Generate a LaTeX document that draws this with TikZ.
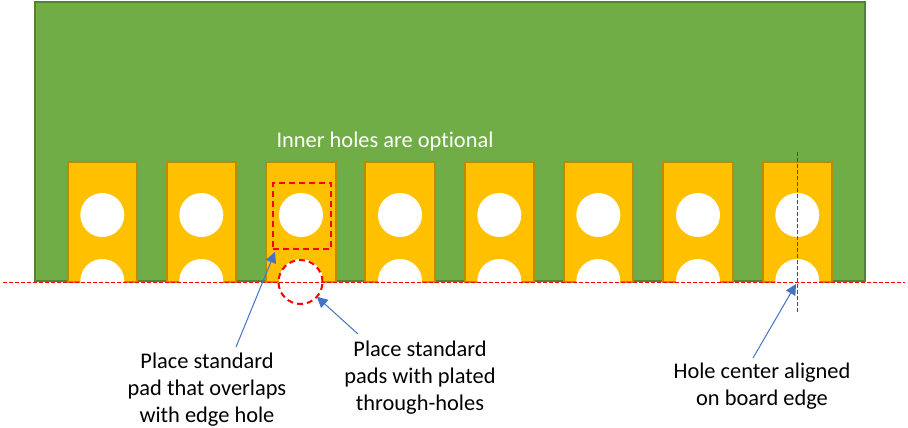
\documentclass[tikz,border=0pt]{standalone}
\usepackage{fontspec}
\setmainfont[Ligatures=NoCommon]{Carlito}
\usetikzlibrary{arrows.meta,positioning}

\definecolor{boardgreen}{HTML}{70AD47}
\definecolor{boardline}{HTML}{548235}
\definecolor{padyellow}{HTML}{FFC000}
\definecolor{padline}{HTML}{BC8C00}
\definecolor{arrowblue}{HTML}{4472C4}

\begin{document}
\begin{tikzpicture}[x=0.75pt,y=-0.75pt,>={Triangle[length=8pt,width=8pt]},
every node/.style={outer sep=0pt,inner sep=0pt},font=\fontsize{16.8}{20.25}\selectfont]

\tikzset{board/.style={draw=boardline,fill=boardgreen,line width=1.5pt,minimum width=622.5pt,minimum height=209pt},
pad/.style={draw=padline,fill=padyellow,line width=1.5pt,minimum width=52pt,minimum height=90pt},
hole/.style={circle,fill=white,minimum size=33pt},
edgemark/.style={draw=red,line width=0.75pt,dash pattern=on 3pt off 1.5pt},
keepout/.style={draw=red,line width=1.5pt,dash pattern=on 4.5pt off 3pt},
callout/.style={->,draw=arrowblue,line width=0.75pt},
note/.style={align=center,text=black}}

\useasboundingbox (0,0) rectangle (908,428);

\node[board] (B) at (450,141.8) {};
\node[text=white] (T) at (385,142) {Inner holes are optional};

% pads with one inner hole and one hole on the edge
\foreach \n/\x in {1/102.3,2/201.3,3/301,4/400,5/499.3,6/598.3,7/698,8/797.3}
{
  \node[pad] (P\n) at (\x,221.7) {};
  \node[hole] (H\n) at (\x,215) {};
  \node[hole] (E\n) at (\x,281) {};
}

\node[keepout,minimum width=43.5pt,minimum height=49.5pt] (R) at (302.3,216) {};
\node[keepout,circle,minimum size=33pt] (C) at (300.5,282) {};

\coordinate (L) at (3,282);
\coordinate (M) at (905,282);
\coordinate (U) at (797.3,152);
\coordinate (D) at (797.3,312);
\draw[edgemark] (L) -- (M);
\draw[edgemark] (U) -- (D);

\node[note] (N1) at (207,389.5) {Place standard\\pad that overlaps\\with edge hole};
\node[note] (N2) at (420,377.5) {Place standard\\pads with plated\\through-holes};
\node[note] (N3) at (762,386) {Hole center aligned\\on board edge};

\coordinate (A1) at (236,347);
\coordinate (A2) at (358,334);
\coordinate (A3) at (753,358);
\draw[callout] (A1) -- (275,252);
\draw[callout] (A2) -- (C);
\draw[callout] (A3) -- (796,284);

\end{tikzpicture}
\end{document}
